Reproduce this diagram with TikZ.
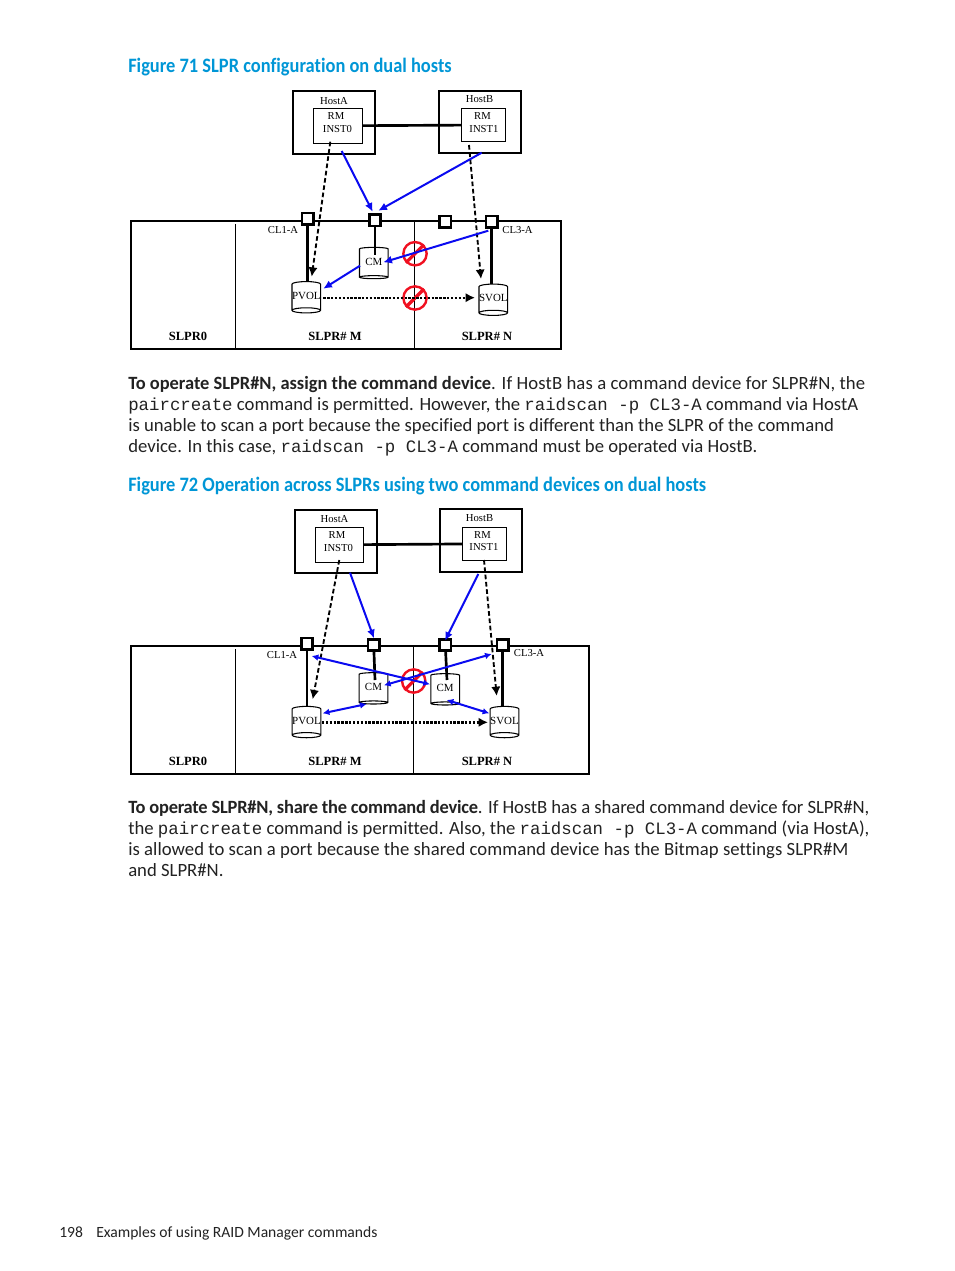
\documentclass[tikz,border=0pt]{standalone}
\usepackage{fontspec}
\setmainfont[Ligatures=NoCommon,BoldFeatures={FakeStretch=0.985}]{Carlito}
\setmonofont[Scale=0.93]{Liberation Mono}
\newfontfamily\labelfont{Liberation Serif}
\newfontfamily\headfont[Ligatures=NoCommon,FakeStretch=0.9]{Carlito}
\usepackage{tikz}
\usetikzlibrary{arrows.meta,shapes.geometric}
\definecolor{Heading}{HTML}{0096D6}
\definecolor{Conn}{HTML}{0A0AF0}
\definecolor{Stop}{HTML}{F01020}
\definecolor{Body}{HTML}{222222}
\newcommand{\tracked}[1]{\addfontfeature{LetterSpace=#1}}
\tikzset{
  headline/.style={anchor=base west,inner sep=0,text=Heading,font=\headfont\fontsize{15.35}{18}\selectfont\bfseries},
  bodyline/.style={anchor=base west,inner sep=0,text=Body,font=\fontsize{14.03}{17}\selectfont},
  hostbox/.style={draw,line width=1.6pt,inner sep=0,minimum width=#1,minimum height=47pt},
  instbox/.style={draw,line width=0.6pt,inner sep=0,minimum width=#1,minimum height=26pt},
  portbox/.style={draw,fill=white,line width=2pt,inner sep=0,minimum size=8.5pt},
  volcyl/.style={draw,fill=white,line width=0.8pt,shape=cylinder,shape border rotate=270,aspect=0.18,inner sep=0,minimum width=21.5pt,minimum height=23.5pt,font=\labelfont\fontsize{8.2}{9}\selectfont},
  smalllab/.style={inner sep=0,yshift=-0.75pt,font=\labelfont\fontsize{8}{9}\selectfont},
  slprlab/.style={inner sep=0,font=\labelfont\bfseries\fontsize{9.4}{10}\selectfont},
  thickline/.style={line width=2pt},
  divider/.style={line width=0.7pt},
  blueconn/.style={Conn,line width=1.5pt,-{Latex[length=6.5pt,width=6pt]}},
  bluetwo/.style={Conn,line width=1.5pt,{Latex[length=5pt,width=5pt]}-{Latex[length=5pt,width=5pt]}},
  dashconn/.style={line width=1.4pt,dash pattern=on 3.5pt off 2pt,-{Latex[length=7pt,width=7pt]}},
  dotconn/.style={line width=1.8pt,dash pattern=on 1.8pt off 1.1pt,-{Latex[length=7pt,width=7pt]}},
  nosign/.style={draw=Stop,circle,line width=1.8pt,inner sep=0,minimum size=17.5pt},
  nobar/.style={Stop,line width=2.4pt},
}
\begin{document}
\begin{tikzpicture}[x=0.75pt,y=-0.75pt]
  \useasboundingbox (0,0) rectangle (954,1271);

  % figure 71
  \node[headline] (titlea) at (128,72) {Figure 71 SLPR configuration on dual hosts};
  \node[hostbox=61.5pt] (hosta) at (334.4,122.7) {};
  \node[hostbox=61.5pt] (hostb) at (480.4,121.9) {};
  \node[instbox=36.8pt] (insta) at (337.8,125.8) {};
  \node[instbox=33.3pt,minimum height=25pt] (instb) at (483.5,125) {};
  \node[smalllab] (hostalab) at (334,100) {HostA};
  \node[smalllab] (hostblab) at (479.5,98) {HostB};
  \node[smalllab] (rma) at (336,115.5) {RM};
  \node[smalllab] (rmb) at (482.5,115.5) {RM};
  \node[smalllab] (instalab) at (337.5,128) {INST0};
  \node[smalllab] (instblab) at (484,128) {INST1};
  \draw[thickline] (insta) -- (instb);

  \node[draw,line width=1.4pt,inner sep=0,minimum width=322.5pt,minimum height=96pt] (slpra) at (346,284.7) {};
  \coordinate (diva) at (235.7,224);
  \coordinate (divb) at (414.7,222);
  \draw[divider] (diva) -- (diva |- slpra.south);
  \draw[divider] (divb) -- (divb |- slpra.south);

  \node[volcyl] (cma) at (373.8,262) {CM};
  \node[volcyl] (pvola) at (306.3,295.7) {PVOL};
  \node[volcyl] (svola) at (493.3,298.2) {SVOL};
  \foreach \nm/\x/\y in {portaa/307.7/218.7,portab/375/220.3,portac/445.3/221.7,portad/491.7/221.7}
    \node[portbox] (\nm) at (\x,\y) {};
  \node[smalllab] (clalab) at (283,229.5) {CL1-A};
  \node[smalllab] (clblab) at (517.5,229.5) {CL3-A};
  \node[slprlab] (zeroa) at (188,336) {SLPR0};
  \node[slprlab] (ma) at (335,336) {SLPR\# M};
  \node[slprlab] (na) at (487,336) {SLPR\# N};

  \coordinate (cmstema) at (375,255);
  \draw[thickline] (portaa) -- (portaa |- pvola.north);
  \draw[thickline] (portab) -- (cmstema);
  \draw[thickline] (portad) -- (portad |- svola.north);

  \node[nosign] (stopaa) at (415,253.7) {};
  \node[nosign] (stopab) at (415,298) {};
  \draw[nobar] (stopaa.south west) -- (stopaa.north east);
  \draw[nobar] (stopab.south west) -- (stopab.north east);

  \foreach \nm/\x/\y in {a1/330.3/141.7,a2/311.7/276.7,a3/341.7/151,a4/372.7/211.7,a5/481.7/152.7,a6/378.3/210.7,
      a7/469/145,a8/481/279,a9/488.3/230.7,a10/383.3/262.3,a11/360/265.7,a12/323.3/288.7,a13/323.3/297.7,a14/475/297.7}
    \coordinate (\nm) at (\x,\y);
  \draw[dashconn] (a1) -- (a2);
  \draw[dashconn] (a7) -- (a8);
  \draw[dotconn] (a13) -- (a14);
  \draw[blueconn] (a3) -- (a4);
  \draw[blueconn] (a5) -- (a6);
  \draw[blueconn] (a9) -- (a10);
  \draw[blueconn] (a11) -- (a12);

  % text under figure 71
  \node[bodyline] (parl1) at (128,389) {\textbf{To operate SLPR\#N, assign the command device}{\tracked{0.68}. If HostB has a command device for SLPR\#N, the}};
  \node[bodyline] (parl2) at (128,410) {\texttt{paircreate} command is permitted. However, the \texttt{raidscan -p CL3-A} command via HostA};
  \node[bodyline] (parl3) at (128,431) {is unable to scan a port because the specified port is different than the SLPR of the command};
  \node[bodyline] (parl4) at (128,452) {device. In this case, \texttt{raidscan -p CL3-A} command must be operated via HostB.};

  % figure 72
  \node[headline] (titleb) at (128,491) {Figure 72 Operation across SLPRs using two command devices on dual hosts};
  \node[hostbox=61.5pt] (hostc) at (336,541.5) {};
  \node[hostbox=61.5pt] (hostd) at (481,540.4) {};
  \node[instbox=36pt] (instc) at (339.3,544.8) {};
  \node[instbox=33.3pt,minimum height=24.7pt] (instd) at (484.5,543.8) {};
  \node[smalllab] (hostclab) at (334.5,518.5) {HostA};
  \node[smalllab] (hostdlab) at (479.5,517.5) {HostB};
  \node[smalllab] (rmc) at (337,534) {RM};
  \node[smalllab] (rmd) at (482.5,534) {RM};
  \node[smalllab] (instclab) at (338.5,546.5) {INST0};
  \node[smalllab] (instdlab) at (484,546.5) {INST1};
  \draw[thickline] (instc) -- (instd);

  \node[draw,line width=1.4pt,inner sep=0,minimum width=343.7pt,minimum height=96pt] (slprb) at (360.2,709.9) {};
  \coordinate (divc) at (235.7,649);
  \coordinate (divd) at (413.7,647);
  \draw[divider] (divc) -- (divc |- slprb.south);
  \draw[divider] (divd) -- (divd |- slprb.south);

  \node[volcyl] (cmb) at (373.5,687.3) {CM};
  \node[volcyl] (cmc) at (445.2,688.3) {CM};
  \node[volcyl] (pvolb) at (306.5,720.5) {PVOL};
  \node[volcyl] (svolb) at (504.5,720.5) {SVOL};
  \foreach \nm/\x/\y in {portba/307/643.7,portbb/373.7/645,portbc/445.3/645,portbd/502.7/645}
    \node[portbox] (\nm) at (\x,\y) {};
  \node[smalllab] (clclab) at (282,654) {CL1-A};
  \node[smalllab] (cldlab) at (529,652) {CL3-A};
  \node[slprlab] (zerob) at (188,761) {SLPR0};
  \node[slprlab] (mb) at (335,761) {SLPR\# M};
  \node[slprlab] (nb) at (487,761) {SLPR\# N};

  \coordinate (cmstemb) at (375,680);
  \coordinate (cmstemc) at (447,680);
  \draw[thickline] (portba) -- (portba |- pvolb.north);
  \draw[thickline] (portbb) -- (cmstemb);
  \draw[thickline] (portbc) -- (cmstemc);
  \draw[thickline] (portbd) -- (portbd |- svolb.north);

  \node[nosign] (stopb) at (413.7,681) {};
  \draw[nobar] (stopb.south west) -- (stopb.north east);

  \foreach \nm/\x/\y in {b1/339.3/560,b2/312.7/699.3,b3/350/572.7,b4/374/638.3,b5/478.3/574,b6/445/640.7,b7/484/560,b8/496.7/696,
      b9/430/684.3,b10/311.7/656,b11/384/685.3,b12/491.7/654,b13/322.7/713.3,b14/366.7/704,b15/446.7/700,b16/489.3/713.3,b17/322/722.3,b18/488/722.3}
    \coordinate (\nm) at (\x,\y);
  \draw[dashconn] (b1) -- (b2);
  \draw[dashconn] (b7) -- (b8);
  \draw[dotconn] (b17) -- (b18);
  \draw[blueconn] (b3) -- (b4);
  \draw[blueconn] (b5) -- (b6);
  \draw[bluetwo] (b9) -- (b10);
  \draw[bluetwo] (b11) -- (b12);
  \draw[bluetwo] (b13) -- (b14);
  \draw[bluetwo] (b15) -- (b16);

  % text under figure 72
  \node[bodyline] (parm1) at (128,813) {\textbf{\tracked{-1.2}To operate SLPR\#N, share the command device}{\tracked{-0.53}. If HostB has a shared command device for SLPR\#N,}};
  \node[bodyline] (parm2) at (128,834) {the \texttt{paircreate} command is permitted. Also, the \texttt{raidscan -p CL3-A} command (via HostA),};
  \node[bodyline] (parm3) at (128,855) {\tracked{0.24}is allowed to scan a port because the shared command device has the Bitmap settings SLPR\#M};
  \node[bodyline] (parm4) at (128,876) {and SLPR\#N.};

  % page foot
  \node[bodyline,font=\fontsize{11.7}{14}\selectfont] (pageno) at (59,1237) {198};
  \node[bodyline,font=\fontsize{11.7}{14}\selectfont] (footer) at (96,1237) {Examples of using RAID Manager commands};
\end{tikzpicture}
\end{document}
